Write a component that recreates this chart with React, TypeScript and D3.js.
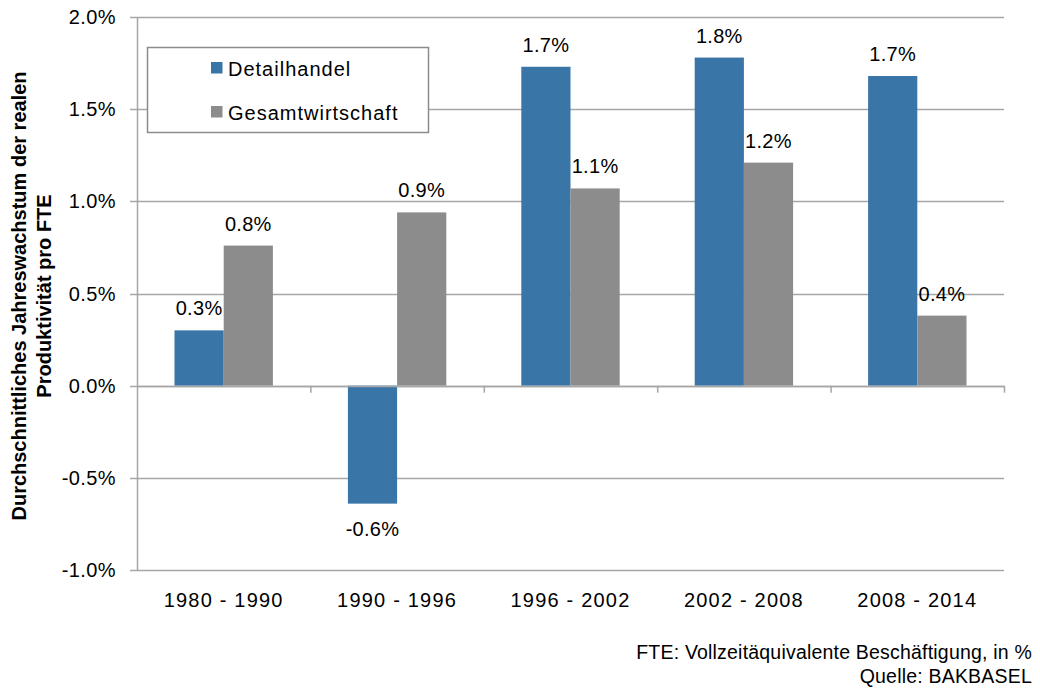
import React from "react";
import * as d3 from "d3";

const categories = ["1980 - 1990", "1990 - 1996", "1996 - 2002", "2002 - 2008", "2008 - 2014"];
const seriesNames = ["Detailhandel", "Gesamtwirtschaft"];
const detailhandel = [0.30, -0.64, 1.73, 1.78, 1.68];
const gesamtwirtschaft = [0.76, 0.94, 1.07, 1.21, 0.38];
const dataLabelsDetail = ["0.3%", "-0.6%", "1.7%", "1.8%", "1.7%"];
const dataLabelsGesamt = ["0.8%", "0.9%", "1.1%", "1.2%", "0.4%"];
const yTicks = [-1.0, -0.5, 0.0, 0.5, 1.0, 1.5, 2.0];
const colors = ["#3a75a8", "#8c8c8c"];
const yTitle1 = "Durchschnittliches Jahreswachstum der realen";
const yTitle2 = "Produktivität pro FTE";
const footer1 = "FTE: Vollzeitäquivalente Beschäftigung, in %";
const footer2 = "Quelle: BAKBASEL";

const W = 1040;
const H = 691;
const left = 137;
const right = 1004;
const top = 17;
const bottom = 570;
const FONT = "'Liberation Sans', Arial, sans-serif";
const gridColor = "#a6a6a6";

export default function App() {
  const x = d3.scaleBand<string>().domain(categories).range([left, right]).paddingInner(0).paddingOuter(0);
  const y = d3.scaleLinear().domain([-1.0, 2.0]).range([bottom, top]);
  const bw = x.bandwidth();
  const groupW = 98.4;
  const xs = d3.scaleBand<string>().domain(seriesNames).range([bw / 2 - groupW / 2, bw / 2 + groupW / 2]);
  const series = [
    { name: seriesNames[0], values: detailhandel, labels: dataLabelsDetail, color: colors[0] },
    { name: seriesNames[1], values: gesamtwirtschaft, labels: dataLabelsGesamt, color: colors[1] },
  ];
  const y0 = y(0);
  const fmt = (t: number) => d3.format(".1f")(t).replace("\u2212", "-") + "%";

  return (
    <svg width={W} height={H} style={{ position: "absolute", left: 0, top: 0, background: "#fff" }} fontFamily={FONT}>
      <rect x={0} y={0} width={W} height={H} fill="#fff" />
      {/* gridlines */}
      {yTicks.map((t) => (
        <line key={"g" + t} x1={left - 7} x2={right} y1={Math.round(y(t)) + 0.5} y2={Math.round(y(t)) + 0.5} stroke={gridColor} strokeWidth={1.5} />
      ))}
      {/* y axis line */}
      <line x1={left + 0.5} x2={left + 0.5} y1={top} y2={bottom} stroke={gridColor} strokeWidth={1.5} />
      {/* y tick labels */}
      {yTicks.map((t) => (
        <text key={"t" + t} x={116} y={y(t) + 7} textAnchor="end" fontSize={20} letterSpacing={0.4} fill="#000">
          {fmt(t)}
        </text>
      ))}
      {/* bars */}
      {series.map((s) =>
        s.values.map((v, i) => {
          const bx = (x(categories[i]) as number) + (xs(s.name) as number);
          const yTop = Math.min(y(v), y0);
          const h = Math.abs(y(v) - y0);
          return <rect key={s.name + i} x={bx} y={yTop} width={xs.bandwidth()} height={h} fill={s.color} />;
        })
      )}
      {/* category axis at zero */}
      <line x1={left} x2={right} y1={Math.round(y0) + 0.5} y2={Math.round(y0) + 0.5} stroke={gridColor} strokeWidth={1.5} />
      {categories.map((c, i) => (
        <line key={"ct" + i} x1={(x(c) as number) + bw + 0.5} x2={(x(c) as number) + bw + 0.5} y1={y0} y2={y0 + 7} stroke={gridColor} strokeWidth={1.5} />
      ))}
      {/* data labels */}
      {series.map((s) =>
        s.values.map((v, i) => {
          const cx = (x(categories[i]) as number) + (xs(s.name) as number) + xs.bandwidth() / 2;
          const ly = v >= 0 ? y(v) - 15 : y(v) + 32;
          return (
            <text key={"l" + s.name + i} x={cx} y={ly} textAnchor="middle" fontSize={20} letterSpacing={0.3} fill="#000">
              {s.labels[i]}
            </text>
          );
        })
      )}
      {/* category labels */}
      {categories.map((c) => (
        <text key={"cl" + c} x={(x(c) as number) + bw / 2} y={607} textAnchor="middle" fontSize={20} letterSpacing={1.2} fill="#000">
          {c}
        </text>
      ))}
      {/* legend */}
      <rect x={147.5} y={47.5} width={281} height={85} fill="#fff" stroke="#8c8c8c" strokeWidth={1.5} />
      {series.map((s, i) => (
        <g key={"lg" + i}>
          <rect x={211} y={62 + i * 44} width={11.5} height={11.5} fill={s.color} />
          <text x={228} y={76 + i * 43.5} fontSize={20} letterSpacing={1} fill="#000">
            {s.name}
          </text>
        </g>
      ))}
      {/* y axis title */}
      <g transform={`translate(26,296) rotate(-90)`}>
        <text x={0} y={0} textAnchor="middle" fontSize={20} fontWeight="bold" fill="#000">
          {yTitle1}
        </text>
        <text x={0} y={25} textAnchor="middle" fontSize={20} fontWeight="bold" fill="#000">
          {yTitle2}
        </text>
      </g>
      {/* footer */}
      <text x={1032} y={659} textAnchor="end" fontSize={19.5} letterSpacing={0.2} fill="#000">
        {footer1}
      </text>
      <text x={1032} y={683} textAnchor="end" fontSize={19.5} letterSpacing={0.2} fill="#000">
        {footer2}
      </text>
    </svg>
  );
}
